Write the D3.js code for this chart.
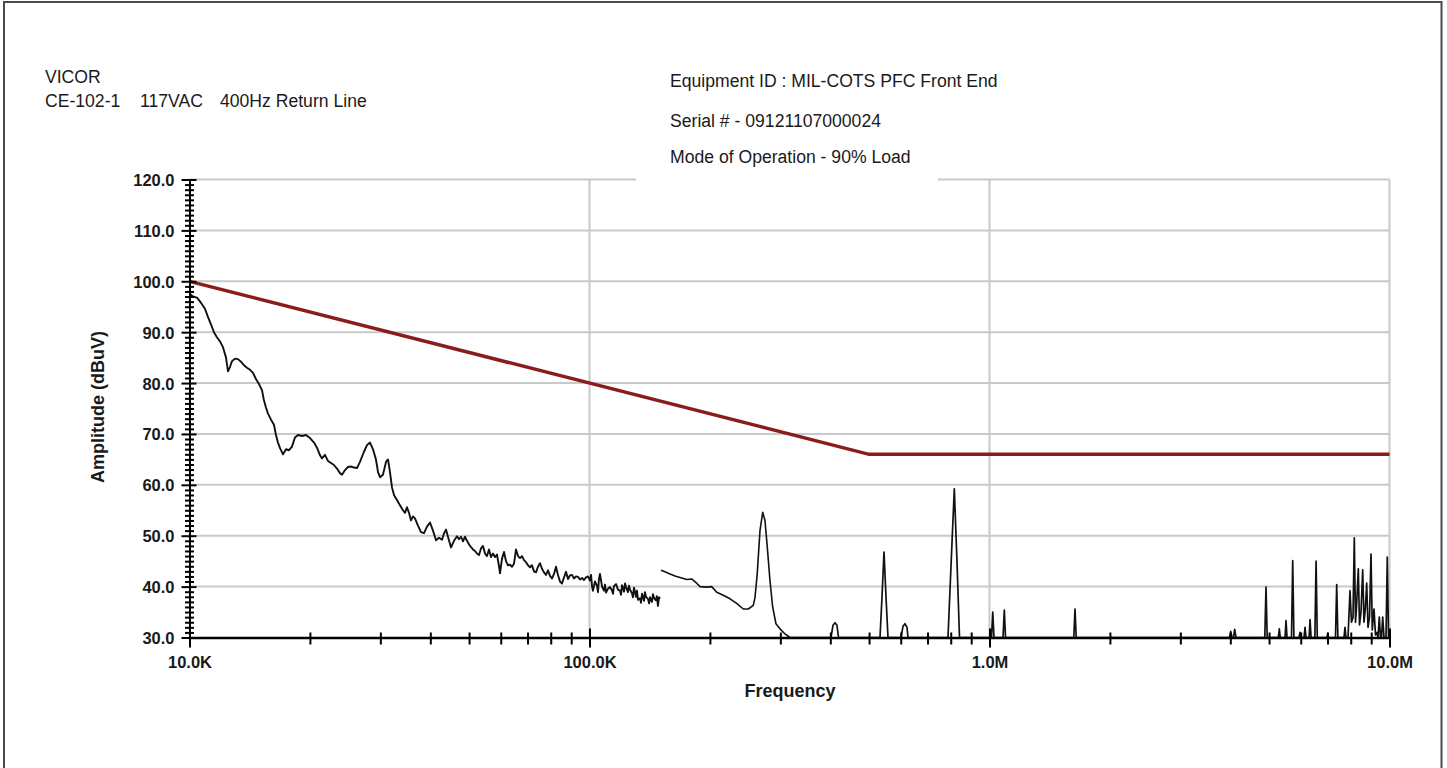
<!DOCTYPE html>
<html><head><meta charset="utf-8">
<script src="https://cdn.jsdelivr.net/npm/d3@7"></script>
<style>
body{margin:0;background:#fff;}
svg{display:block;}
text{font-family:"Liberation Sans",Arial,Helvetica,sans-serif;}
</style>
</head><body>
<svg id="chart" width="1447" height="768"></svg>
<script>
// ---------- text ----------
const headerLeft = ["VICOR"];
const headerLeftLine2 = ["CE-102-1", "117VAC", "400Hz Return Line"];
const headerRight = ["Equipment ID : MIL-COTS PFC Front End", "Serial # - 09121107000024", "Mode of Operation - 90% Load"];
const yAxisTitle = "Amplitude (dBuV)";
const xAxisTitle = "Frequency";

// ---------- axes ----------
const yMajorTicks = [30, 40, 50, 60, 70, 80, 90, 100, 110, 120];
const yTickLabels = ["30.0", "40.0", "50.0", "60.0", "70.0", "80.0", "90.0", "100.0", "110.0", "120.0"];
const xMajorTicks = [1e4, 1e5, 1e6, 1e7];
const xTickLabels = ["10.0K", "100.0K", "1.0M", "10.0M"];

// ---------- limit line (CE-102), kHz / dBuV ----------
const limitKHz = [10, 500, 10000];
const limitDb = [100, 66, 66];

// ---------- measured trace, [kHz, dBuV] ----------
const traceLow = [
[10.03,97.5],[10.20,97.0],[10.44,96.8],[10.68,95.8],[10.93,94.6],[11.12,93.0],[11.32,91.5],[11.51,90.0],[11.71,89.0],[11.92,88.2],
[12.13,87.0],[12.34,85.0],[12.48,82.3],[12.63,83.2],[12.77,84.3],[13.00,84.8],[13.22,84.7],[13.45,84.2],[13.68,83.5],[13.92,83.0],
[14.17,82.6],[14.41,82.0],[14.66,80.8],[14.92,79.8],[15.18,78.6],[15.35,76.6],[15.53,75.2],[15.71,74.0],[15.99,72.8],[16.26,71.8],
[16.45,69.8],[16.64,68.3],[16.84,67.2],[17.13,66.0],[17.43,67.0],[17.73,66.8],[18.04,67.5],[18.35,69.3],[18.67,69.8],[19.11,69.6],
[19.55,69.8],[20.01,69.2],[20.48,68.3],[20.83,67.3],[21.20,65.8],[21.44,65.2],[21.81,65.9],[22.19,64.7],[22.58,64.3],[22.97,63.9],
[23.37,63.2],[23.78,62.3],[24.06,62.0],[24.48,62.9],[24.90,63.5],[25.34,63.6],[25.78,63.4],[26.23,63.3],[26.68,64.5],[27.30,66.5],
[27.78,67.8],[28.26,68.3],[28.75,67.0],[29.25,65.0],[29.60,62.5],[29.94,61.5],[30.46,62.0],[30.99,64.5],[31.35,65.0],[31.71,62.5],
[32.08,59.5],[32.45,58.0],[33.01,57.0],[33.59,56.0],[34.18,55.0],[34.57,54.5],[34.97,55.6],[35.38,54.5],[35.79,53.0],[36.20,53.8],
[36.62,53.4],[37.26,52.0],[37.91,50.7],[38.57,50.5],[39.24,51.8],[39.93,52.6],[40.62,51.0],[41.33,49.1],[42.05,49.6],[42.78,49.2],
[43.28,50.5],[43.78,51.2],[44.28,49.8],[45.06,47.7],[45.84,49.0],[46.64,49.9],[47.18,49.3],[47.72,49.8],[48.28,48.9],[48.84,49.8],
[49.40,49.0],[50.26,48.0],[51.14,47.3],[51.73,47.0],[52.33,46.5],[52.94,46.2],[53.55,47.5],[54.17,48.0],[54.80,46.5],[55.43,46.0],
[56.07,47.3],[56.72,45.8],[57.38,46.5],[58.05,45.8],[58.72,46.3],[59.40,44.0],[59.74,42.6],[60.43,45.5],[61.13,46.8],[61.84,45.0],
[62.55,44.2],[63.28,44.3],[64.01,43.9],[64.75,44.5],[65.50,47.3],[66.26,46.0],[67.03,45.6],[67.81,46.0],[68.59,45.2],[69.38,44.8],
[70.19,44.2],[71.00,43.8],[71.82,44.2],[72.65,43.0],[73.49,42.8],[74.34,43.9],[75.20,44.6],[76.07,43.5],[76.95,42.8],[77.84,42.3],
[78.75,43.2],[79.66,42.1],[80.58,41.6],[81.52,42.5],[82.46,43.9],[83.41,42.3],[84.38,41.0],[85.36,40.6],[86.35,41.8],[87.34,42.9],
[88.36,41.5],[89.38,42.2],[90.42,42.3],[91.46,41.6],[92.52,42.0],[93.59,41.9],[94.68,41.4],[95.78,41.7],[96.89,41.3],[98.01,41.8],
[99.14,42.0],[100.3,41.2],[100.9,42.3],[101.5,40.0],[102.0,39.2],[103.2,41.0],[104.4,40.2],[105.0,38.9],[105.6,41.5],[106.2,42.5],
[107.5,40.0],[108.7,39.2],[109.3,40.4],[110.0,38.8],[111.2,39.6],[112.5,39.9],[113.8,39.3],[114.5,38.6],[115.1,40.1],[116.5,40.5],
[117.8,39.4],[119.2,39.2],[119.9,38.4],[120.6,40.3],[122.0,39.0],[122.7,40.6],[123.4,39.9],[124.8,38.9],[125.5,40.2],[126.3,39.4],
[127.7,38.7],[128.4,37.9],[129.2,39.8],[130.7,38.0],[131.4,39.2],[132.2,37.4],[133.7,37.7],[134.5,36.8],[135.3,38.6],[136.9,37.2],
[137.6,38.9],[138.4,38.0],[140.0,37.6],[141.0,36.7],[141.7,37.9],[143.3,37.0],[144.1,38.5],[145.0,37.8],[146.6,37.3],[147.4,38.1],
[148.3,36.2],[149.2,37.9],[150.1,37.6]
];
const traceMid = [
[150.9,43.2],[154.4,42.9],[158.9,42.5],[163.6,42.1],[168.4,41.8],[175.0,41.4],[180.1,41.5],[184.6,40.8],[188.9,40.0],[196.3,39.9],
[202.1,40.0],[208.0,38.9],[216.0,38.3],[224.5,37.6],[233.3,36.7],[242.4,35.6],[249.5,35.6],[256.7,36.3],[259.3,37.9],[262.6,42.5],
[266.8,51.0],[271.0,54.6],[274.6,53.0],[278.3,47.7],[282.6,41.2],[287.0,36.0],[292.5,32.7],[299.4,31.7],[308.1,30.7],[317.1,30.0]
];
const traceHigh = [
[317.1,30],[401.5,30],[406.2,32.4],[410.9,32.9],[415.6,32.4],[419.3,30],
[532.4,30],[538.6,38],[544.8,46.8],[551.1,38],[557.5,30],
[600.8,30],[607.8,32.2],[614.8,32.7],[622.0,32.0],[625.5,30],
[787.5,30],[801.2,44],[816.6,59.2],[829.3,45],[841.4,30],
[1011.6,30],[1018.9,35.0],[1026.2,30],
[1080.8,30],[1089.0,35.4],[1096.5,30],
[1624.5,30],[1635.8,35.6],[1647.3,30],
[3981,30],[4009,31.2],[4039,30],[4074,30],[4102,31.6],[4133,30],
[4878,30],[4912,39.9],[4946,30],
[5272,30],[5303,31.7],[5333,30],
[5481,30],[5512,33.3],[5544,30],
[5689,30],[5728,45.1],[5768,30],
[5940,30],[5976,31.0],[6010,30],
[6114,30],[6150,32.0],[6186,30],
[6294,30],[6330,33.5],[6367,30],
[6508,30],[6553,45.0],[6598,30],
[6980,30],[7008,30.8],[7040,30],
[7328,30],[7379,40.4],[7430,30],
[7695,30],[7740,32.0],[7785,30],
[7875,30],[7966,39.2],[8035,33],[8105,34],[8166,49.6],[8222,33],[8270,36],[8356,43.5],[8414,32.5],[8487,35],
[8570,43.3],[8634,33],[8699,35.5],[8770,40.7],[8836,32],[8913,34],[8990,46.4],[9057,31.5],[9147,35.6],[9226,30.5],
[9306,31],[9360,30],[9430,34.0],[9495,30],[9550,30],[9616,34.0],[9689,30],[9801,30],[9874,45.8],[9943,30],[10000,30]
];

// ---------- drawing ----------
const svg = d3.select("#chart");
const x = d3.scaleLog().domain([1e4, 1e7]).range([189.5, 1389.5]);
const y = d3.scaleLinear().domain([30, 120]).range([637.5, 179.5]);

// frame
svg.append("rect").attr("x", 4).attr("y", 2).attr("width", 1437.5).attr("height", 820)
  .attr("fill", "#fff").attr("stroke", "#4a4a4a").attr("stroke-width", 2);

// gridlines
const grid = svg.append("g").attr("stroke", "#c9c9c9").attr("stroke-width", 2);
grid.selectAll("line.h").data(yMajorTicks.filter(d => d > 30)).join("line")
  .attr("x1", x(1e4)).attr("x2", x(1e7)).attr("y1", d => y(d)).attr("y2", d => y(d));
grid.selectAll("line.v").data(xMajorTicks.filter(d => d > 1e4)).join("line")
  .attr("x1", d => x(d)).attr("x2", d => x(d)).attr("y1", y(120)).attr("y2", y(30));

// white box behind right header
svg.append("rect").attr("x", 636).attr("y", 60).attr("width", 302).attr("height", 123).attr("fill", "#fff");

// headers
const hdr = svg.append("g").attr("fill", "#1a1a1a").style("font-size", "17.6px");
hdr.append("text").attr("x", 45).attr("y", 83).text(headerLeft[0]);
const l2x = [45, 140, 220];
headerLeftLine2.forEach((t, i) => hdr.append("text").attr("x", l2x[i]).attr("y", 107).text(t));
const rY = [86.5, 126.5, 162.5];
headerRight.forEach((t, i) => hdr.append("text").attr("x", 670).attr("y", rY[i]).text(t));

// limit line
const limitData = limitKHz.map((f, i) => [f, limitDb[i]]);
const line = d3.line().x(d => x(d[0] * 1000)).y(d => y(d[1]));
svg.append("path").attr("d", line(limitData)).attr("fill", "none")
  .attr("stroke", "#8b1c1c").attr("stroke-width", 3.4);

// trace
[[traceLow, 1.9], [traceMid, 1.6], [traceHigh, 1.7]].forEach(([seg, w]) => {
  svg.append("path").attr("d", line(seg)).attr("fill", "none")
    .attr("stroke", "#111").attr("stroke-width", w).attr("stroke-linejoin", "round");
});

// y axis
const yMinor = d3.range(30, 121, 1).filter(v => v % 10 !== 0);
const yAxisG = svg.append("g").attr("transform", `translate(${x(1e4)},0)`);
yAxisG.call(d3.axisLeft(y).tickValues(yMinor).tickFormat("").tickSizeOuter(0));
yAxisG.selectAll(".tick line").attr("x1", -4.5).attr("x2", 4.5).attr("stroke-width", 2);
yAxisG.select(".domain").remove();
const yMajG = svg.append("g").attr("transform", `translate(${x(1e4)},0)`);
yMajG.call(d3.axisLeft(y).tickValues(yMajorTicks).tickFormat((d, i) => yTickLabels[i]).tickSizeOuter(0));
yMajG.selectAll(".tick line").attr("x1", -8).attr("x2", 7).attr("stroke-width", 2);
yMajG.select(".domain").attr("stroke-width", 2);
yMajG.selectAll(".tick text").attr("x", -15).attr("dy", "0.36em")
  .style("font-size", "16.5px").style("font-weight", "bold").attr("fill", "#1a1a1a");

// x axis
const xMinor = [];
[1e4, 1e5, 1e6].forEach(dec => { for (let k = 2; k <= 9; k++) xMinor.push(dec * k); });
const xAxisMinor = svg.append("g").attr("transform", `translate(0,${y(30)})`);
xAxisMinor.call(d3.axisBottom(x).tickValues(xMinor).tickFormat("").tickSizeOuter(0));
xAxisMinor.selectAll(".tick line").attr("y1", -5).attr("y2", 7).attr("stroke-width", 2);
xAxisMinor.select(".domain").remove();
const xAxisG = svg.append("g").attr("transform", `translate(0,${y(30)})`);
xAxisG.call(d3.axisBottom(x).tickValues(xMajorTicks).tickFormat((d, i) => xTickLabels[i]).tickSizeOuter(0));
xAxisG.selectAll(".tick line").attr("y1", -9).attr("y2", 10).attr("stroke-width", 2);
xAxisG.select(".domain").attr("stroke-width", 2.6);
xAxisG.selectAll(".tick text").attr("y", 30).attr("dy", 0)
  .style("font-size", "16.5px").style("font-weight", "bold").attr("fill", "#1a1a1a");

// axis titles
svg.append("text").attr("transform", "translate(104,407) rotate(-90)").attr("text-anchor", "middle")
  .style("font-size", "18px").style("font-weight", "bold").attr("fill", "#1a1a1a").text(yAxisTitle);
svg.append("text").attr("x", 790).attr("y", 697).attr("text-anchor", "middle")
  .style("font-size", "18px").style("font-weight", "bold").attr("fill", "#1a1a1a").text(xAxisTitle);
</script>
</body></html>
